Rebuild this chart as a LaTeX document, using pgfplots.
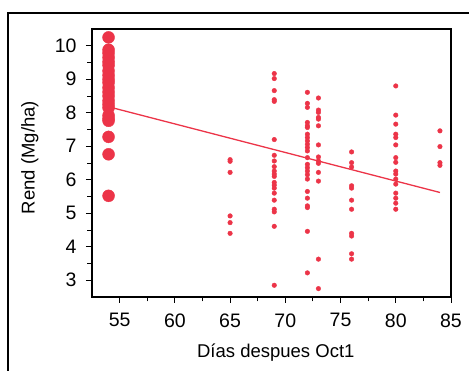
\documentclass[border=0pt]{standalone}
\usepackage{fontspec}
\setmainfont{Liberation Sans}
\usepackage{pgfplots}
\pgfplotsset{compat=1.18}
\definecolor{pred}{RGB}{236,52,72}
\begin{document}
\begin{tikzpicture}[x=1pt,y=1pt]
\useasboundingbox (0,0) rectangle (469,371);
\draw[line width=1.4pt] (8,0) -- (8,358) -- (469,358);
\begin{axis}[
  at={(92pt,74pt)}, anchor=south west,
  scale only axis, width=359pt, height=268pt,
  xmin=52.5, xmax=85, ymin=2.5, ymax=10.5,
  xtick={55,60,65,70,75,80,85},
  ytick={3,4,5,6,7,8,9,10},
  minor x tick num=1, minor y tick num=1,
  tick align=outside, tickpos=left,
  major tick length=6pt, minor tick length=4.5pt,
  every tick/.style={black, line width=0.9pt},
  axis line style={line width=1.3pt},
  /pgf/number format/assume math mode=true,
  ticklabel style={font=\fontsize{19.5}{19.5}\selectfont},
  yticklabel style={xshift=-6pt},
  xticklabel style={yshift=-7pt},
  label style={font=\fontsize{18.5}{18.5}\selectfont},
  xlabel={Días despues Oct1},
  ylabel={Rend (Mg/ha)},
  xlabel style={at={(axis description cs:0.512,-0.224)}, anchor=base},
  ylabel style={at={(axis description cs:-0.16,0.52)}, anchor=base},
  clip=false,
]
\addplot[only marks, mark=*, mark size=6pt, color=pred] coordinates {
(54,10.25) (54,9.88) (54,9.78) (54,9.65) (54,9.52) (54,9.42) (54,9.25) (54,9.12)
(54,9.0) (54,8.9) (54,8.75) (54,8.62) (54,8.5) (54,8.36) (54,8.25) (54,8.15)
(54,7.92) (54,7.82) (54,7.76) (54,7.28) (54,6.76) (54,5.52)
};
\addplot[only marks, mark=*, mark size=2.3pt, color=pred] coordinates {
(65,6.6) (65,6.55) (65,6.22) (65,4.92) (65,4.72) (65,4.40)
(69,9.17) (69,9.02) (69,8.66) (69,8.39) (69,8.34) (69,7.20) (69,6.73) (69,6.56)
(69,6.39) (69,6.26) (69,6.17) (69,6.10) (69,5.92) (69,5.84) (69,5.75) (69,5.60)
(69,5.39) (69,5.12) (69,5.04) (69,4.61) (69,2.85)
(72,8.61) (72,8.28) (72,8.16) (72,7.71) (72,7.61) (72,7.56) (72,7.36) (72,7.26)
(72,7.16) (72,7.06) (72,6.96) (72,6.86) (72,6.66) (72,6.46) (72,6.36) (72,6.26)
(72,6.15) (72,6.02) (72,5.65) (72,5.45) (72,5.22) (72,5.17) (72,4.46) (72,3.22)
(73,8.44) (73,8.08) (73,8.01) (73,7.86) (73,7.81) (73,7.61) (73,7.04) (73,6.68)
(73,6.56) (73,6.49) (73,6.22) (73,5.96) (73,3.63) (73,2.75)
(76,6.83) (76,6.51) (76,6.38) (76,5.82) (76,5.75) (76,5.39) (76,5.12) (76,4.40)
(76,4.32) (76,3.79) (76,3.63)
(80,8.80) (80,7.93) (80,7.66) (80,7.36) (80,7.26) (80,7.04) (80,6.66) (80,6.52)
(80,6.26) (80,6.17) (80,6.02) (80,5.87) (80,5.60) (80,5.45) (80,5.30) (80,5.12)
(84,7.46) (84,6.99) (84,6.51) (84,6.43)
};
\addplot[color=pred, line width=1.3pt] coordinates {(54.45,8.14) (84,5.62)};
\end{axis}
\end{tikzpicture}
\end{document}
